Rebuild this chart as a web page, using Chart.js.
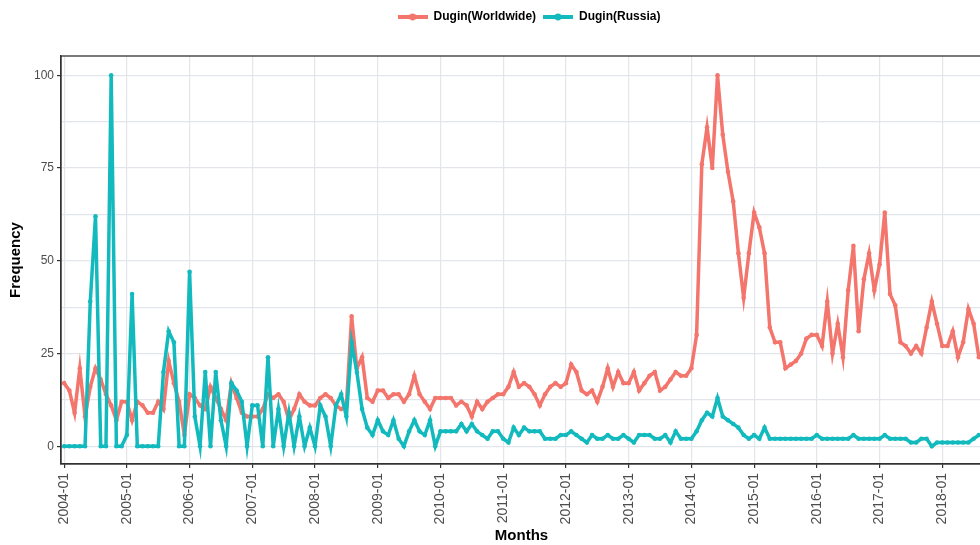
<!DOCTYPE html>
<html>
<head>
<meta charset="utf-8">
<title>Dugin search frequency</title>
<script src="https://cdn.jsdelivr.net/npm/chart.js@4.4.1/dist/chart.umd.min.js"></script>
<style>
  html, body { margin: 0; padding: 0; background: #ffffff; overflow: hidden; }
  #wrap { width: 986px; height: 545px; }
</style>
</head>
<body>
<div id="wrap"><canvas id="chart"></canvas></div>
<script>
// Monthly values, 2004-01 .. 2018-08
var worldwide = [
  17, 15, 9, 21, 8, 16, 21, 18, 14, 11, 7, 12,      // 2004
  12, 7, 12, 11, 9, 9, 12, 10, 23, 17, 12, 3,       // 2005
  14, 13, 11, 10, 16, 13, 10, 7, 17, 13, 9, 8,      // 2006
  8, 8, 10, 14, 13, 14, 12, 7, 10, 14, 12, 11,      // 2007
  11, 13, 14, 13, 11, 10, 11, 35, 21, 24, 13, 12,   // 2008
  15, 15, 13, 14, 14, 12, 14, 19, 14, 12, 10, 13,   // 2009
  13, 13, 13, 11, 12, 11, 8, 12, 10, 12, 13, 14,    // 2010
  14, 16, 20, 16, 17, 16, 14, 11, 14, 16, 17, 16,   // 2011
  17, 22, 20, 15, 14, 15, 12, 16, 21, 16, 20, 17,   // 2012
  17, 20, 15, 17, 19, 20, 15, 16, 18, 20, 19, 19,   // 2013
  21, 30, 76, 86, 75, 100, 84, 74, 66, 52, 40, 52,  // 2014
  63, 59, 52, 32, 28, 28, 21, 22, 23, 25, 29, 30,   // 2015
  30, 27, 39, 25, 33, 24, 42, 54, 31, 45, 52, 42,   // 2016
  49, 63, 41, 38, 28, 27, 25, 27, 25, 32, 39, 33,   // 2017
  27, 27, 31, 24, 28, 37, 33, 24                    // 2018
];
var russia = [
  0, 0, 0, 0, 0, 39, 62, 0, 0, 100, 0, 0,           // 2004
  3, 41, 0, 0, 0, 0, 0, 20, 31, 28, 0, 0,           // 2005
  47, 8, 0, 20, 0, 20, 7, 0, 17, 15, 12, 0,         // 2006
  11, 11, 0, 24, 0, 10, 0, 9, 0, 8, 0, 5,           // 2007
  0, 11, 8, 0, 11, 14, 8, 28, 20, 10, 5, 3,         // 2008
  7, 4, 3, 7, 2, 0, 4, 7, 4, 3, 7, 0,               // 2009
  4, 4, 4, 4, 6, 4, 6, 4, 3, 2, 4, 4,               // 2010
  2, 1, 5, 3, 5, 4, 4, 4, 2, 2, 2, 3,               // 2011
  3, 4, 3, 2, 1, 3, 2, 2, 3, 2, 2, 3,               // 2012
  2, 1, 3, 3, 3, 2, 2, 3, 1, 4, 2, 2,               // 2013
  2, 4, 7, 9, 8, 13, 8, 7, 6, 5, 3, 2,              // 2014
  3, 2, 5, 2, 2, 2, 2, 2, 2, 2, 2, 2,               // 2015
  3, 2, 2, 2, 2, 2, 2, 3, 2, 2, 2, 2,               // 2016
  2, 3, 2, 2, 2, 2, 1, 1, 2, 2, 0, 1,               // 2017
  1, 1, 1, 1, 1, 1, 2, 3                            // 2018
];
var seriesNames = ["Dugin(Worldwide)", "Dugin(Russia)"];
var seriesColors = ["#F3756C", "#12BABE"];
var yTicks = [0, 12.5, 25, 37.5, 50, 62.5, 75, 87.5, 100];
var yLabels = [0, 25, 50, 75, 100];

// month labels (category names along the x axis)
var months = [];
for (var year = 2004; year <= 2018; year++) {
  for (var m = 1; m <= 12; m++) {
    if (months.length < worldwide.length) months.push(year + "-" + (m < 10 ? "0" + m : m));
  }
}
var xTicks = [];   // one labelled tick every January
months.forEach(function (label, i) { if (label.slice(5) === "01") xTicks.push(i); });

function toPoints(values) {
  return values.map(function (v, i) { return { x: i, y: v }; });
}

// legend key: line with a dot in the middle, like the plotted series
function legendIcon(color) {
  var c = document.createElement("canvas");
  c.width = 30;
  c.height = 10;
  var g = c.getContext("2d");
  g.strokeStyle = color;
  g.lineWidth = 4;
  g.beginPath();
  g.moveTo(0, 5);
  g.lineTo(30, 5);
  g.stroke();
  g.fillStyle = color;
  g.beginPath();
  g.arc(15, 5, 3.4, 0, Math.PI * 2);
  g.fill();
  return c;
}

// panel frame (top and right sides too)
var framePlugin = {
  id: "frame",
  afterDraw: function (chart) {
    var a = chart.chartArea, ctx = chart.ctx;
    ctx.save();
    ctx.strokeStyle = "#333333";
    ctx.lineWidth = 1.3;
    ctx.strokeRect(a.left, a.top, a.right - a.left, a.bottom - a.top);
    ctx.restore();
  }
};

// give the legend a fixed band above the panel, and nudge it where the original sits
var legendBand = {
  id: "legendBand",
  beforeInit: function (chart) {
    var fit = chart.legend.fit;
    chart.legend.fit = function () {
      fit.bind(chart.legend)();
      this.height = 56;
    };
  },
  afterLayout: function (chart) {
    var lg = chart.legend;
    lg.left += 38;
    lg.right += 38;
    lg.top += 4;
    lg.bottom += 4;
  }
};

var tickFont = { family: "'Liberation Sans', Arial, sans-serif", size: 12 };
var titleFont = { family: "'Liberation Sans', Arial, sans-serif", size: 15, weight: "bold" };
var gridColor = "#E2E5E9";

new Chart(document.getElementById("chart"), {
  type: "line",
  data: {
    datasets: [
      {
        label: seriesNames[0],
        data: toPoints(worldwide),
        borderColor: seriesColors[0],
        backgroundColor: seriesColors[0],
        borderWidth: 3.5,
        pointRadius: 2.3,
        pointBorderWidth: 0,
        order: 1
      },
      {
        label: seriesNames[1],
        data: toPoints(russia),
        borderColor: seriesColors[1],
        backgroundColor: seriesColors[1],
        borderWidth: 3.5,
        pointRadius: 2.3,
        pointBorderWidth: 0,
        order: 0
      }
    ]
  },
  options: {
    responsive: true,
    maintainAspectRatio: false,
    animation: false,
    layout: { padding: { left: 0, right: 4, top: 0, bottom: 0 } },
    plugins: {
      tooltip: { enabled: false },
      legend: {
        position: "top",
        labels: {
          usePointStyle: true,
          pointStyleWidth: 30,
          padding: 7,
          color: "#000000",
          font: { family: "'Liberation Sans', Arial, sans-serif", size: 12, weight: "bold" },
          sort: function (a, b) { return a.datasetIndex - b.datasetIndex; },
          generateLabels: function (chart) {
            var items = Chart.defaults.plugins.legend.labels.generateLabels(chart);
            items.forEach(function (item) {
              item.pointStyle = legendIcon(seriesColors[item.datasetIndex]);
            });
            return items;
          }
        }
      }
    },
    scales: {
      x: {
        type: "linear",
        min: -0.6,
        max: worldwide.length - 1 + 0.6,
        afterBuildTicks: function (scale) {
          scale.ticks = xTicks.map(function (v) { return { value: v }; });
        },
        afterFit: function (scale) { scale.height = 81; },
        ticks: {
          autoSkip: false,
          minRotation: 90,
          maxRotation: 90,
          padding: 5,
          color: "#4D4D4D",
          font: { family: tickFont.family, size: 14 },
          callback: function (value) { return months[value]; }
        },
        grid: { color: gridColor, lineWidth: 1.2, tickLength: 4, tickColor: "#333333", tickWidth: 1.2 },
        border: { color: "#333333", width: 1.3 },
        title: { display: true, text: "Months", color: "#000000", font: titleFont, padding: { top: 0, bottom: 0 } }
      },
      y: {
        min: -4.8,
        max: 105.2,
        afterBuildTicks: function (scale) {
          scale.ticks = yTicks.map(function (v) { return { value: v }; });
        },
        afterFit: function (scale) { scale.width = 61; },
        ticks: {
          padding: 3,
          color: "#4D4D4D",
          font: tickFont,
          callback: function (value) { return yLabels.indexOf(value) >= 0 ? String(value) : ""; }
        },
        grid: {
          color: gridColor,
          lineWidth: 1.2,
          tickLength: 4,
          tickWidth: 1.2,
          tickColor: function (ctx) {
            return ctx.tick && yLabels.indexOf(ctx.tick.value) >= 0 ? "#333333" : "rgba(0,0,0,0)";
          }
        },
        border: { color: "#333333", width: 1.3 },
        title: { display: true, text: "Frequency", color: "#000000", font: titleFont, padding: { top: 7, bottom: 0 } }
      }
    }
  },
  plugins: [framePlugin, legendBand]
});
</script>
</body>
</html>
